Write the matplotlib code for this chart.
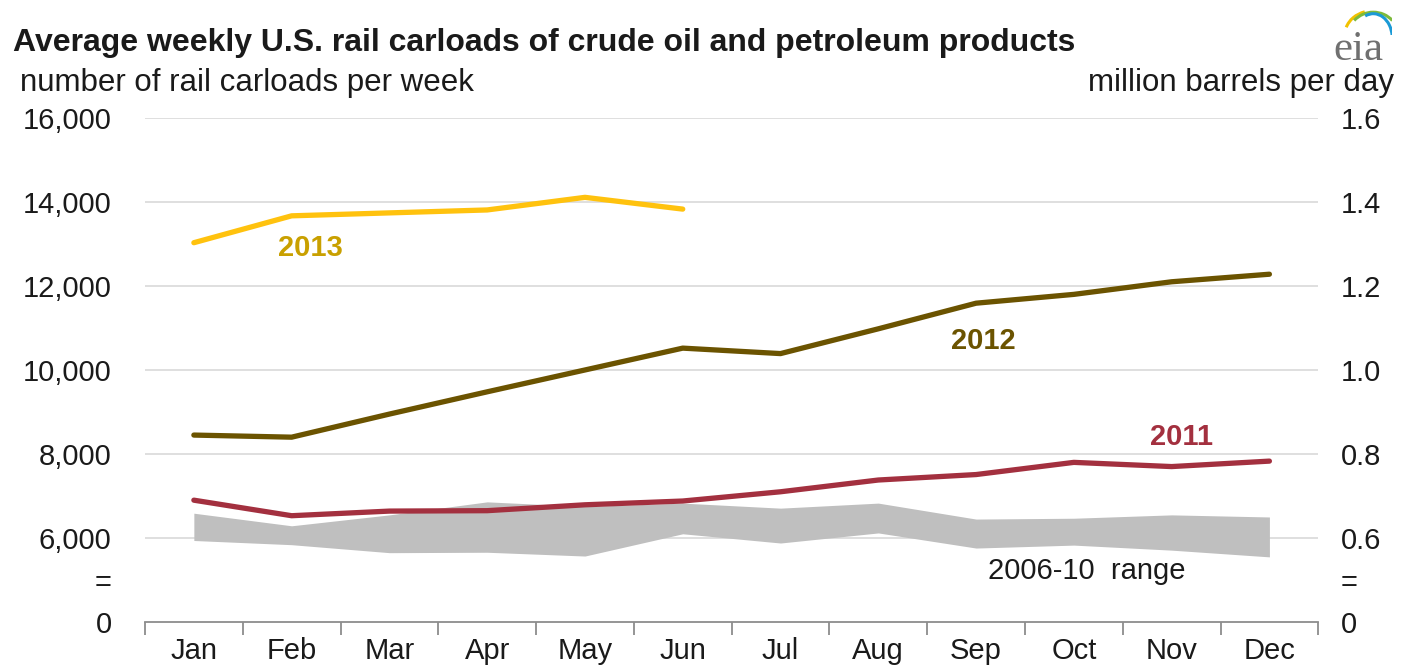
import matplotlib
matplotlib.use("Agg")
import matplotlib.pyplot as plt
import numpy as np
from matplotlib.patches import Arc

# ---------------------------------------------------------------------------
# Data
# ---------------------------------------------------------------------------
months = ["Jan", "Feb", "Mar", "Apr", "May", "Jun",
          "Jul", "Aug", "Sep", "Oct", "Nov", "Dec"]
y2013 = [13030, 13670, 13740, 13810, 14110, 13830]
y2012 = [8450, 8400, 8950, 9480, 10000, 10520, 10390, 10980, 11590, 11800, 12100, 12280]
y2011 = [6900, 6530, 6640, 6650, 6790, 6880, 7100, 7380, 7510, 7800, 7700, 7830]
range_low = [5940, 5840, 5650, 5660, 5570, 6100, 5880, 6120, 5760, 5830, 5710, 5550]
range_high = [6590, 6290, 6550, 6860, 6750, 6830, 6710, 6830, 6450, 6470, 6550, 6500]

# broken axis: "0" is drawn at 4000, "=" marks the break at 5000
left_ticks = [4000, 5000, 6000, 8000, 10000, 12000, 14000, 16000]
left_labels = ["0", "=", "6,000", "8,000", "10,000", "12,000", "14,000", "16,000"]
right_labels = ["0", "=", "0.6", "0.8", "1.0", "1.2", "1.4", "1.6"]

plt.rcParams["font.family"] = ["Liberation Sans", "DejaVu Sans"]

C2013 = "#FFC20E"
C2013_TXT = "#C9A000"
C2012 = "#6B5300"
C2011 = "#A3303F"
CRANGE = "#BFBFBF"
TXT = "#1a1a1a"
FS = 21

fig = plt.figure(figsize=(14.02, 6.68), dpi=100)
ax = fig.add_axes([0.1034, 0.0689, 0.8369, 0.7545])

x = np.arange(len(months))
ax.fill_between(x, range_low, range_high, color=CRANGE, lw=0, zorder=2)
ax.plot(x, y2011, color=C2011, lw=3.8, solid_capstyle="round", zorder=3)
ax.plot(x, y2012, color=C2012, lw=3.8, solid_capstyle="round", zorder=3)
ax.plot(x[:len(y2013)], y2013, color=C2013, lw=3.8, solid_capstyle="round", zorder=3)

ax.set_xlim(-0.5, 11.5)
ax.set_ylim(4000, 16000)

# gridlines only at the real values
for v in left_ticks[2:]:
    ax.axhline(v, color="#D9D9D9", lw=1.2, zorder=1)

for s in ["top", "left", "right"]:
    ax.spines[s].set_visible(False)
ax.spines["bottom"].set_color("#8C8C8C")
ax.spines["bottom"].set_linewidth(1.3)

ax.set_xticks(x)
ax.set_xticklabels(months)
ax.set_xticks(np.arange(-0.5, 12, 1), minor=True)
ax.tick_params(axis="x", which="major", length=0, pad=11, labelsize=FS, labelcolor=TXT)
ax.tick_params(axis="x", which="minor", length=9, width=1.3, color="#8C8C8C", direction="out")

ax.set_yticks(left_ticks)
ax.set_yticklabels(left_labels)
ax.tick_params(axis="y", length=0, pad=24, labelsize=FS, labelcolor=TXT)

ax2 = ax.twinx()
ax2.set_ylim(ax.get_ylim())
ax2.set_yticks(left_ticks)
ax2.set_yticklabels(right_labels)
ax2.tick_params(axis="y", length=0, pad=16, labelsize=FS, labelcolor=TXT)
for s in ax2.spines.values():
    s.set_visible(False)

# series labels
ax.text(1.19, 12900, "2013", color=C2013_TXT, fontsize=FS, fontweight="bold", ha="center", va="center")
ax.text(8.07, 10690, "2012", color=C2012, fontsize=FS, fontweight="bold", ha="center", va="center")
ax.text(10.1, 8400, "2011", color=C2011, fontsize=FS, fontweight="bold", ha="center", va="center")
ax.text(9.13, 5220, "2006-10  range", color=TXT, fontsize=FS, ha="center", va="center", zorder=4)

# titles
fig.text(0.009, 0.935, "Average weekly U.S. rail carloads of crude oil and petroleum products",
         fontsize=23, fontweight="bold", color=TXT, ha="left", va="center")
fig.text(0.014, 0.876, "number of rail carloads per week", fontsize=22.5, color=TXT,
         ha="left", va="center")
fig.text(0.994, 0.876, "million barrels per day", fontsize=22.5, color=TXT,
         ha="right", va="center")

# eia logo (approximation)
fig.text(0.969, 0.925, "eia", fontsize=31, color="#707070", family="Liberation Serif",
         ha="center", va="center")
lax = fig.add_axes([0.948, 0.948, 0.045, 0.045])
lax.set_xlim(0, 1)
lax.set_ylim(0, 1)
lax.axis("off")
lax.add_patch(Arc((0.7, 0.0), 0.9, 1.6, theta1=100, theta2=150, color="#F2C200", lw=2.2))
lax.add_patch(Arc((0.7, -0.05), 0.8, 1.6, theta1=60, theta2=120, color="#7DBA3C", lw=2.2))
lax.add_patch(Arc((0.7, -0.1), 0.6, 1.6, theta1=10, theta2=100, color="#1B9AD6", lw=2.2))

fig.savefig("out.png", dpi=100)
